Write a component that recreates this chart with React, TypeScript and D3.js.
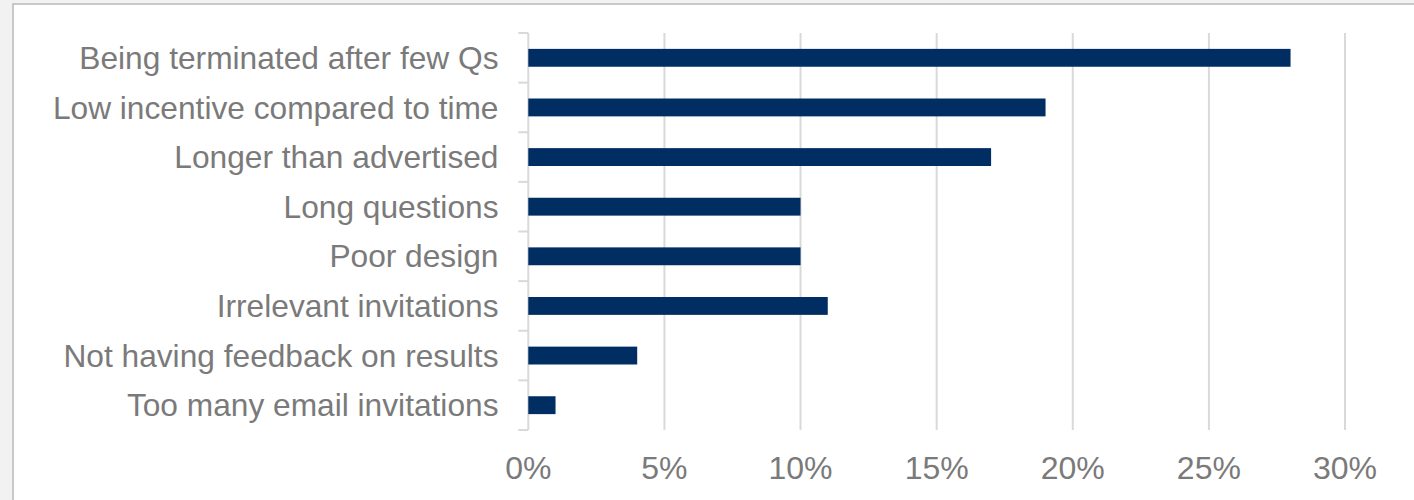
import React from "react";
import * as d3 from "d3";

const categories = [
  "Being terminated after few Qs",
  "Low incentive compared to time",
  "Longer than advertised",
  "Long questions",
  "Poor design",
  "Irrelevant invitations",
  "Not having feedback on results",
  "Too many email invitations",
];
const values = [28, 19, 17, 10, 10, 11, 4, 1];
const xTicks = [0, 5, 10, 15, 20, 25, 30];

const W = 1414;
const H = 500;
const left = 528.3;
const right = 1345;
const top = 33;
const bottom = 430;

export default function App() {
  const x = d3.scaleLinear().domain([0, 30]).range([left, right]);
  const y = d3.scaleBand().domain(categories).range([top, bottom]).paddingInner(0.64).paddingOuter(0.32);
  const band = (bottom - top) / categories.length;
  const textColor = "#7a7a7a";
  const font = "'Liberation Sans', Arial, sans-serif";
  return (
    <div style={{ position: "absolute", left: 0, top: 0 }}>
      <svg width={W} height={H} style={{ display: "block" }}>
        <rect x={0} y={0} width={W} height={H} fill="#f2f2f2" />
        <rect x={13} y={4} width={W + 10} height={H + 10} fill="#ffffff" stroke="#c8c8c8" strokeWidth={2} />
        {xTicks.slice(1).map((t) => (
          <line key={"g" + t} x1={x(t)} x2={x(t)} y1={top} y2={bottom} stroke="#d9d9d9" strokeWidth={2} />
        ))}
        <line x1={left} x2={left} y1={top} y2={bottom} stroke="#d9d9d9" strokeWidth={2} />
        {d3.range(categories.length + 1).map((i) => (
          <line key={"t" + i} x1={left - 10} x2={left} y1={top + i * band} y2={top + i * band} stroke="#d9d9d9" strokeWidth={2} />
        ))}
        {categories.map((c, i) => (
          <rect key={c} x={x(0)} y={y(c)!} width={x(values[i]) - x(0)} height={y.bandwidth()} fill="#002d62" />
        ))}
        {categories.map((c) => (
          <text key={"l" + c} x={498.5} y={(y(c)! + y.bandwidth() / 2)} dy="0.35em" textAnchor="end" fill={textColor} fontFamily={font} fontSize={31.7}>
            {c}
          </text>
        ))}
        {xTicks.map((t) => (
          <text key={"x" + t} x={x(t)} y={478.5} textAnchor="middle" fill={textColor} fontFamily={font} fontSize={32}>
            {t + "%"}
          </text>
        ))}
      </svg>
    </div>
  );
}
